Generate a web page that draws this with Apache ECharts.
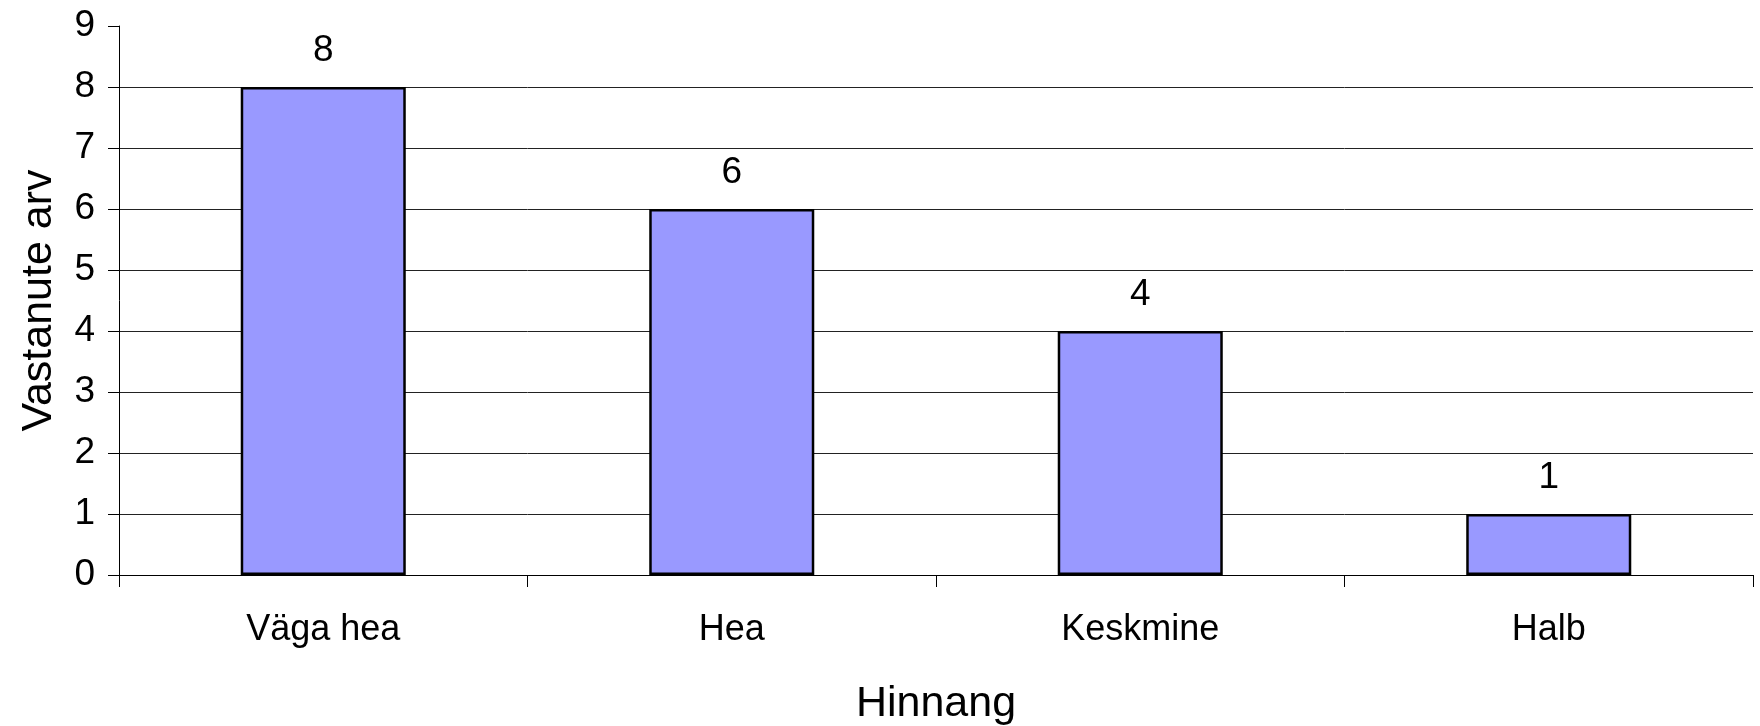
<!DOCTYPE html>
<html>
<head>
<meta charset="utf-8">
<script src="https://cdn.jsdelivr.net/npm/echarts@6/dist/echarts.min.js"></script>
<style>
html,body{margin:0;padding:0;background:#fff;}
#chart{width:1760px;height:726px;}
</style>
</head>
<body>
<div id="chart"></div>
<script>
const categories = ["Väga hea", "Hea", "Keskmine", "Halb"];
const values = [8, 6, 4, 1];
const yTicks = [0, 1, 2, 3, 4, 5, 6, 7, 8, 9];
const xAxisName = "Hinnang";
const yAxisName = "Vastanute arv";

const FONT = "'Liberation Sans', Arial, sans-serif";
const chart = echarts.init(document.getElementById('chart'));
chart.setOption({
  animation: false,
  backgroundColor: '#ffffff',
  grid: { left: 119, right: 7, top: 26, bottom: 151, containLabel: false, outerBoundsMode: 'none' },
  xAxis: {
    type: 'category',
    data: categories,
    boundaryGap: true,
    name: xAxisName,
    nameLocation: 'middle',
    nameGap: 108,
    nameTextStyle: { fontFamily: FONT, fontSize: 43, color: '#000' },
    axisLine: { show: true, lineStyle: { color: '#000', width: 1 } },
    axisTick: { show: true, length: 12, interval: 0, lineStyle: { color: '#000' } },
    axisLabel: { fontFamily: FONT, fontSize: 36, color: '#000', margin: 37, interval: 0 },
    splitLine: { show: false }
  },
  yAxis: {
    type: 'value',
    min: yTicks[0],
    max: yTicks[yTicks.length - 1],
    interval: 1,
    name: yAxisName,
    nameLocation: 'middle',
    nameGap: 58,
    nameTextStyle: { fontFamily: FONT, fontSize: 43, color: '#000' },
    axisLine: { show: true, lineStyle: { color: '#000', width: 1 } },
    axisTick: { show: true, length: 11, lineStyle: { color: '#000' } },
    axisLabel: { fontFamily: FONT, fontSize: 37, color: '#000', margin: 24 },
    splitLine: { show: true, showMaxLine: false, lineStyle: { color: '#222', width: 1 } }
  },
  series: [{
    type: 'bar',
    data: values,
    barWidth: '40.4%',
    itemStyle: { color: '#9999FF', borderColor: '#000', borderWidth: 2.5 },
    label: { show: true, position: 'top', distance: 18, fontFamily: FONT, fontSize: 37, color: '#000' }
  }]
});
</script>
</body>
</html>
